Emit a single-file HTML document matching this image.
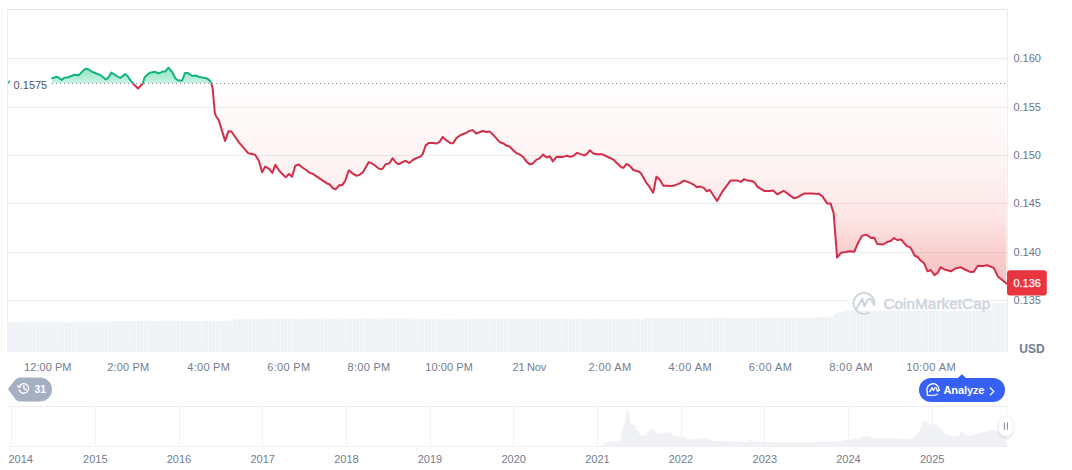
<!DOCTYPE html>
<html><head><meta charset="utf-8"><title>Chart</title>
<style>
html,body{margin:0;padding:0;background:#fff;}
body{width:1072px;height:470px;overflow:hidden;position:relative;font-family:'Liberation Sans', Arial, sans-serif;}
svg{position:absolute;left:0;top:0;display:block;}
svg text{font-family:'Liberation Sans', Arial, sans-serif;}
</style></head><body>
<svg width="1072" height="470" viewBox="0 0 1072 470">
<defs>
  <linearGradient id="gfill" x1="0" y1="66" x2="0" y2="83.5" gradientUnits="userSpaceOnUse">
    <stop offset="0" stop-color="#16c784" stop-opacity="0.50"/>
    <stop offset="1" stop-color="#16c784" stop-opacity="0.24"/>
  </linearGradient>
  <linearGradient id="rfill" x1="0" y1="83.5" x2="0" y2="290" gradientUnits="userSpaceOnUse">
    <stop offset="0" stop-color="#e93f3f" stop-opacity="0.0"/>
    <stop offset="0.08" stop-color="#e93f3f" stop-opacity="0.018"/>
    <stop offset="0.42" stop-color="#e93f3f" stop-opacity="0.065"/>
    <stop offset="0.66" stop-color="#e93f3f" stop-opacity="0.145"/>
    <stop offset="0.85" stop-color="#e93f3f" stop-opacity="0.27"/>
    <stop offset="1" stop-color="#e93f3f" stop-opacity="0.33"/>
  </linearGradient>
  <clipPath id="above"><rect x="0" y="0" width="1072" height="83.5"/></clipPath>
  <clipPath id="aboveF"><rect x="0" y="0" width="1072" height="83"/></clipPath>
  <clipPath id="below"><rect x="0" y="83.5" width="1072" height="400"/></clipPath>
  <filter id="hshadow" x="-50%" y="-50%" width="200%" height="200%">
    <feDropShadow dx="0" dy="1" stdDeviation="1.2" flood-color="#000" flood-opacity="0.18"/>
  </filter>
</defs>

<g shape-rendering="crispEdges">
<line x1="7" y1="9.5" x2="1008" y2="9.5" stroke="#e5e5e5" stroke-width="1"/>
<line x1="1.5" y1="9" x2="1.5" y2="352" stroke="#f8f8f8" stroke-width="1"/>
<line x1="7.5" y1="9" x2="7.5" y2="352" stroke="#ededed" stroke-width="1"/>
<line x1="1007.5" y1="9" x2="1007.5" y2="352" stroke="#ededed" stroke-width="1"/>
<line x1="8" y1="58.5" x2="1007" y2="58.5" stroke="#ececec" stroke-width="1"/>
<line x1="8" y1="107.5" x2="1007" y2="107.5" stroke="#ececec" stroke-width="1"/>
<line x1="8" y1="155.5" x2="1007" y2="155.5" stroke="#ececec" stroke-width="1"/>
<line x1="8" y1="203.5" x2="1007" y2="203.5" stroke="#ececec" stroke-width="1"/>
<line x1="8" y1="252.5" x2="1007" y2="252.5" stroke="#ececec" stroke-width="1"/>
<line x1="8" y1="300.5" x2="1007" y2="300.5" stroke="#ececec" stroke-width="1"/>
</g>
<g fill="#eef1f5">
<rect x="7.0" y="322.2" width="3.6" height="29.5"/>
<rect x="10.6" y="322.3" width="3.6" height="29.4"/>
<rect x="14.2" y="322.2" width="3.6" height="29.5"/>
<rect x="17.8" y="322.3" width="3.6" height="29.4"/>
<rect x="21.4" y="322.3" width="3.6" height="29.4"/>
<rect x="25.0" y="322.1" width="3.6" height="29.6"/>
<rect x="28.6" y="322.0" width="3.6" height="29.7"/>
<rect x="32.2" y="322.4" width="3.6" height="29.3"/>
<rect x="35.8" y="322.2" width="3.6" height="29.5"/>
<rect x="39.4" y="322.1" width="3.6" height="29.6"/>
<rect x="43.0" y="322.5" width="3.6" height="29.2"/>
<rect x="46.6" y="322.2" width="3.6" height="29.5"/>
<rect x="50.2" y="322.4" width="3.6" height="29.3"/>
<rect x="53.8" y="322.2" width="3.6" height="29.5"/>
<rect x="57.4" y="322.3" width="3.6" height="29.4"/>
<rect x="61.0" y="322.1" width="3.6" height="29.6"/>
<rect x="64.6" y="322.3" width="3.6" height="29.4"/>
<rect x="68.2" y="322.4" width="3.6" height="29.3"/>
<rect x="71.8" y="322.2" width="3.6" height="29.5"/>
<rect x="75.4" y="322.4" width="3.6" height="29.3"/>
<rect x="79.0" y="322.3" width="3.6" height="29.4"/>
<rect x="82.6" y="322.0" width="3.6" height="29.7"/>
<rect x="86.2" y="322.4" width="3.6" height="29.3"/>
<rect x="89.8" y="322.3" width="3.6" height="29.4"/>
<rect x="93.4" y="322.1" width="3.6" height="29.6"/>
<rect x="97.0" y="322.0" width="3.6" height="29.7"/>
<rect x="100.6" y="322.4" width="3.6" height="29.3"/>
<rect x="104.2" y="322.2" width="3.6" height="29.5"/>
<rect x="107.8" y="322.3" width="3.6" height="29.4"/>
<rect x="111.4" y="321.4" width="3.6" height="30.3"/>
<rect x="115.0" y="321.1" width="3.6" height="30.6"/>
<rect x="118.6" y="321.2" width="3.6" height="30.5"/>
<rect x="122.2" y="320.9" width="3.6" height="30.8"/>
<rect x="125.8" y="321.1" width="3.6" height="30.6"/>
<rect x="129.4" y="320.9" width="3.6" height="30.8"/>
<rect x="133.0" y="321.2" width="3.6" height="30.5"/>
<rect x="136.6" y="321.1" width="3.6" height="30.6"/>
<rect x="140.2" y="320.8" width="3.6" height="30.9"/>
<rect x="143.8" y="320.8" width="3.6" height="30.9"/>
<rect x="147.4" y="320.8" width="3.6" height="30.9"/>
<rect x="151.0" y="321.2" width="3.6" height="30.5"/>
<rect x="154.6" y="320.9" width="3.6" height="30.8"/>
<rect x="158.2" y="321.0" width="3.6" height="30.7"/>
<rect x="161.8" y="320.8" width="3.6" height="30.9"/>
<rect x="165.4" y="320.9" width="3.6" height="30.8"/>
<rect x="169.0" y="320.8" width="3.6" height="30.9"/>
<rect x="172.6" y="320.8" width="3.6" height="30.9"/>
<rect x="176.2" y="320.9" width="3.6" height="30.8"/>
<rect x="179.8" y="320.9" width="3.6" height="30.8"/>
<rect x="183.4" y="321.1" width="3.6" height="30.6"/>
<rect x="187.0" y="321.0" width="3.6" height="30.7"/>
<rect x="190.6" y="321.1" width="3.6" height="30.6"/>
<rect x="194.2" y="321.0" width="3.6" height="30.7"/>
<rect x="197.8" y="321.1" width="3.6" height="30.6"/>
<rect x="201.4" y="320.9" width="3.6" height="30.8"/>
<rect x="205.0" y="320.7" width="3.6" height="31.0"/>
<rect x="208.6" y="321.0" width="3.6" height="30.7"/>
<rect x="212.2" y="321.1" width="3.6" height="30.6"/>
<rect x="215.8" y="321.0" width="3.6" height="30.7"/>
<rect x="219.4" y="320.9" width="3.6" height="30.8"/>
<rect x="223.0" y="320.9" width="3.6" height="30.8"/>
<rect x="226.6" y="320.7" width="3.6" height="31.0"/>
<rect x="230.2" y="321.0" width="3.6" height="30.7"/>
<rect x="233.8" y="319.3" width="3.6" height="32.4"/>
<rect x="237.4" y="319.2" width="3.6" height="32.5"/>
<rect x="241.0" y="319.0" width="3.6" height="32.7"/>
<rect x="244.6" y="319.4" width="3.6" height="32.3"/>
<rect x="248.2" y="319.5" width="3.6" height="32.2"/>
<rect x="251.8" y="319.0" width="3.6" height="32.7"/>
<rect x="255.4" y="319.3" width="3.6" height="32.4"/>
<rect x="259.0" y="319.1" width="3.6" height="32.6"/>
<rect x="262.6" y="319.0" width="3.6" height="32.7"/>
<rect x="266.2" y="319.0" width="3.6" height="32.7"/>
<rect x="269.8" y="319.2" width="3.6" height="32.5"/>
<rect x="273.4" y="319.3" width="3.6" height="32.4"/>
<rect x="277.0" y="318.8" width="3.6" height="32.9"/>
<rect x="280.6" y="319.1" width="3.6" height="32.6"/>
<rect x="284.2" y="318.8" width="3.6" height="32.9"/>
<rect x="287.8" y="319.1" width="3.6" height="32.6"/>
<rect x="291.4" y="318.9" width="3.6" height="32.8"/>
<rect x="295.0" y="319.2" width="3.6" height="32.5"/>
<rect x="298.6" y="319.2" width="3.6" height="32.5"/>
<rect x="302.2" y="318.9" width="3.6" height="32.8"/>
<rect x="305.8" y="319.2" width="3.6" height="32.5"/>
<rect x="309.4" y="318.8" width="3.6" height="32.9"/>
<rect x="313.0" y="318.7" width="3.6" height="33.0"/>
<rect x="316.6" y="318.9" width="3.6" height="32.8"/>
<rect x="320.2" y="318.6" width="3.6" height="33.1"/>
<rect x="323.8" y="318.7" width="3.6" height="33.0"/>
<rect x="327.4" y="318.8" width="3.6" height="32.9"/>
<rect x="331.0" y="318.9" width="3.6" height="32.8"/>
<rect x="334.6" y="318.6" width="3.6" height="33.1"/>
<rect x="338.2" y="318.5" width="3.6" height="33.2"/>
<rect x="341.8" y="318.9" width="3.6" height="32.8"/>
<rect x="345.4" y="318.6" width="3.6" height="33.1"/>
<rect x="349.0" y="318.9" width="3.6" height="32.8"/>
<rect x="352.6" y="318.9" width="3.6" height="32.8"/>
<rect x="356.2" y="318.6" width="3.6" height="33.1"/>
<rect x="359.8" y="318.6" width="3.6" height="33.1"/>
<rect x="363.4" y="318.6" width="3.6" height="33.1"/>
<rect x="367.0" y="318.7" width="3.6" height="33.0"/>
<rect x="370.6" y="318.6" width="3.6" height="33.1"/>
<rect x="374.2" y="318.6" width="3.6" height="33.1"/>
<rect x="377.8" y="318.6" width="3.6" height="33.1"/>
<rect x="381.4" y="318.8" width="3.6" height="32.9"/>
<rect x="385.0" y="318.5" width="3.6" height="33.2"/>
<rect x="388.6" y="318.5" width="3.6" height="33.2"/>
<rect x="392.2" y="318.6" width="3.6" height="33.1"/>
<rect x="395.8" y="318.3" width="3.6" height="33.4"/>
<rect x="399.4" y="318.4" width="3.6" height="33.3"/>
<rect x="403.0" y="318.7" width="3.6" height="33.0"/>
<rect x="406.6" y="318.4" width="3.6" height="33.3"/>
<rect x="410.2" y="318.5" width="3.6" height="33.2"/>
<rect x="413.8" y="319.2" width="3.6" height="32.5"/>
<rect x="417.4" y="319.4" width="3.6" height="32.3"/>
<rect x="421.0" y="319.4" width="3.6" height="32.3"/>
<rect x="424.6" y="319.2" width="3.6" height="32.5"/>
<rect x="428.2" y="319.5" width="3.6" height="32.2"/>
<rect x="431.8" y="319.5" width="3.6" height="32.2"/>
<rect x="435.4" y="319.2" width="3.6" height="32.5"/>
<rect x="439.0" y="319.5" width="3.6" height="32.2"/>
<rect x="442.6" y="319.4" width="3.6" height="32.3"/>
<rect x="446.2" y="319.5" width="3.6" height="32.2"/>
<rect x="449.8" y="319.3" width="3.6" height="32.4"/>
<rect x="453.4" y="319.5" width="3.6" height="32.2"/>
<rect x="457.0" y="319.5" width="3.6" height="32.2"/>
<rect x="460.6" y="319.2" width="3.6" height="32.5"/>
<rect x="464.2" y="319.2" width="3.6" height="32.5"/>
<rect x="467.8" y="319.5" width="3.6" height="32.2"/>
<rect x="471.4" y="319.3" width="3.6" height="32.4"/>
<rect x="475.0" y="318.8" width="3.6" height="32.9"/>
<rect x="478.6" y="318.9" width="3.6" height="32.8"/>
<rect x="482.2" y="319.0" width="3.6" height="32.7"/>
<rect x="485.8" y="318.8" width="3.6" height="32.9"/>
<rect x="489.4" y="318.9" width="3.6" height="32.8"/>
<rect x="493.0" y="318.8" width="3.6" height="32.9"/>
<rect x="496.6" y="318.9" width="3.6" height="32.8"/>
<rect x="500.2" y="319.0" width="3.6" height="32.7"/>
<rect x="503.8" y="318.9" width="3.6" height="32.8"/>
<rect x="507.4" y="318.9" width="3.6" height="32.8"/>
<rect x="511.0" y="319.1" width="3.6" height="32.6"/>
<rect x="514.6" y="318.7" width="3.6" height="33.0"/>
<rect x="518.2" y="319.0" width="3.6" height="32.7"/>
<rect x="521.8" y="319.1" width="3.6" height="32.6"/>
<rect x="525.4" y="318.9" width="3.6" height="32.8"/>
<rect x="529.0" y="318.9" width="3.6" height="32.8"/>
<rect x="532.6" y="319.2" width="3.6" height="32.5"/>
<rect x="536.2" y="318.9" width="3.6" height="32.8"/>
<rect x="539.8" y="318.9" width="3.6" height="32.8"/>
<rect x="543.4" y="319.0" width="3.6" height="32.7"/>
<rect x="547.0" y="319.1" width="3.6" height="32.6"/>
<rect x="550.6" y="318.8" width="3.6" height="32.9"/>
<rect x="554.2" y="319.0" width="3.6" height="32.7"/>
<rect x="557.8" y="319.0" width="3.6" height="32.7"/>
<rect x="561.4" y="319.2" width="3.6" height="32.5"/>
<rect x="565.0" y="319.0" width="3.6" height="32.7"/>
<rect x="568.6" y="319.2" width="3.6" height="32.5"/>
<rect x="572.2" y="318.9" width="3.6" height="32.8"/>
<rect x="575.8" y="319.0" width="3.6" height="32.7"/>
<rect x="579.4" y="319.2" width="3.6" height="32.5"/>
<rect x="583.0" y="319.3" width="3.6" height="32.4"/>
<rect x="586.6" y="319.1" width="3.6" height="32.6"/>
<rect x="590.2" y="319.0" width="3.6" height="32.7"/>
<rect x="593.8" y="318.9" width="3.6" height="32.8"/>
<rect x="597.4" y="319.1" width="3.6" height="32.6"/>
<rect x="601.0" y="319.0" width="3.6" height="32.7"/>
<rect x="604.6" y="319.3" width="3.6" height="32.4"/>
<rect x="608.2" y="319.3" width="3.6" height="32.4"/>
<rect x="611.8" y="319.0" width="3.6" height="32.7"/>
<rect x="615.4" y="319.0" width="3.6" height="32.7"/>
<rect x="619.0" y="319.3" width="3.6" height="32.4"/>
<rect x="622.6" y="319.2" width="3.6" height="32.5"/>
<rect x="626.2" y="319.3" width="3.6" height="32.4"/>
<rect x="629.8" y="319.1" width="3.6" height="32.6"/>
<rect x="633.4" y="319.0" width="3.6" height="32.7"/>
<rect x="637.0" y="319.1" width="3.6" height="32.6"/>
<rect x="640.6" y="319.2" width="3.6" height="32.5"/>
<rect x="644.2" y="318.2" width="3.6" height="33.5"/>
<rect x="647.8" y="318.0" width="3.6" height="33.7"/>
<rect x="651.4" y="318.0" width="3.6" height="33.7"/>
<rect x="655.0" y="318.0" width="3.6" height="33.7"/>
<rect x="658.6" y="318.0" width="3.6" height="33.7"/>
<rect x="662.2" y="318.2" width="3.6" height="33.5"/>
<rect x="665.8" y="317.8" width="3.6" height="33.9"/>
<rect x="669.4" y="317.7" width="3.6" height="34.0"/>
<rect x="673.0" y="318.2" width="3.6" height="33.5"/>
<rect x="676.6" y="318.1" width="3.6" height="33.6"/>
<rect x="680.2" y="318.2" width="3.6" height="33.5"/>
<rect x="683.8" y="317.9" width="3.6" height="33.8"/>
<rect x="687.4" y="318.1" width="3.6" height="33.6"/>
<rect x="691.0" y="318.1" width="3.6" height="33.6"/>
<rect x="694.6" y="317.7" width="3.6" height="34.0"/>
<rect x="698.2" y="318.0" width="3.6" height="33.7"/>
<rect x="701.8" y="318.0" width="3.6" height="33.7"/>
<rect x="705.4" y="317.9" width="3.6" height="33.8"/>
<rect x="709.0" y="317.9" width="3.6" height="33.8"/>
<rect x="712.6" y="317.7" width="3.6" height="34.0"/>
<rect x="716.2" y="317.7" width="3.6" height="34.0"/>
<rect x="719.8" y="317.7" width="3.6" height="34.0"/>
<rect x="723.4" y="317.6" width="3.6" height="34.1"/>
<rect x="727.0" y="317.8" width="3.6" height="33.9"/>
<rect x="730.6" y="317.7" width="3.6" height="34.0"/>
<rect x="734.2" y="317.9" width="3.6" height="33.8"/>
<rect x="737.8" y="317.5" width="3.6" height="34.2"/>
<rect x="741.4" y="318.0" width="3.6" height="33.7"/>
<rect x="745.0" y="317.8" width="3.6" height="33.9"/>
<rect x="748.6" y="318.0" width="3.6" height="33.7"/>
<rect x="752.2" y="317.9" width="3.6" height="33.8"/>
<rect x="755.8" y="317.9" width="3.6" height="33.8"/>
<rect x="759.4" y="317.7" width="3.6" height="34.0"/>
<rect x="763.0" y="317.5" width="3.6" height="34.2"/>
<rect x="766.6" y="317.8" width="3.6" height="33.9"/>
<rect x="770.2" y="317.5" width="3.6" height="34.2"/>
<rect x="773.8" y="317.6" width="3.6" height="34.1"/>
<rect x="777.4" y="317.7" width="3.6" height="34.0"/>
<rect x="781.0" y="317.7" width="3.6" height="34.0"/>
<rect x="784.6" y="317.6" width="3.6" height="34.1"/>
<rect x="788.2" y="317.9" width="3.6" height="33.8"/>
<rect x="791.8" y="317.7" width="3.6" height="34.0"/>
<rect x="795.4" y="317.5" width="3.6" height="34.2"/>
<rect x="799.0" y="317.5" width="3.6" height="34.2"/>
<rect x="802.6" y="317.8" width="3.6" height="33.9"/>
<rect x="806.2" y="317.5" width="3.6" height="34.2"/>
<rect x="809.8" y="317.6" width="3.6" height="34.1"/>
<rect x="813.4" y="317.4" width="3.6" height="34.3"/>
<rect x="817.0" y="317.3" width="3.6" height="34.4"/>
<rect x="820.6" y="317.4" width="3.6" height="34.3"/>
<rect x="824.2" y="317.5" width="3.6" height="34.2"/>
<rect x="827.8" y="317.2" width="3.6" height="34.5"/>
<rect x="831.4" y="316.1" width="3.6" height="35.6"/>
<rect x="835.0" y="313.4" width="3.6" height="38.3"/>
<rect x="838.6" y="312.0" width="3.6" height="39.7"/>
<rect x="842.2" y="311.3" width="3.6" height="40.4"/>
<rect x="845.8" y="310.6" width="3.6" height="41.1"/>
<rect x="849.4" y="309.9" width="3.6" height="41.8"/>
<rect x="853.0" y="307.9" width="3.6" height="43.8"/>
<rect x="856.6" y="305.7" width="3.6" height="46.0"/>
<rect x="860.2" y="305.3" width="3.6" height="46.4"/>
<rect x="863.8" y="304.8" width="3.6" height="46.9"/>
<rect x="867.4" y="304.4" width="3.6" height="47.3"/>
<rect x="871.0" y="304.0" width="3.6" height="47.7"/>
<rect x="874.6" y="304.0" width="3.6" height="47.7"/>
<rect x="878.2" y="304.1" width="3.6" height="47.6"/>
<rect x="881.8" y="303.7" width="3.6" height="48.0"/>
<rect x="885.4" y="303.7" width="3.6" height="48.0"/>
<rect x="889.0" y="303.7" width="3.6" height="48.0"/>
<rect x="892.6" y="303.7" width="3.6" height="48.0"/>
<rect x="896.2" y="303.6" width="3.6" height="48.1"/>
<rect x="899.8" y="304.1" width="3.6" height="47.6"/>
<rect x="903.4" y="304.0" width="3.6" height="47.7"/>
<rect x="907.0" y="303.6" width="3.6" height="48.1"/>
<rect x="910.6" y="303.8" width="3.6" height="47.9"/>
<rect x="914.2" y="303.6" width="3.6" height="48.1"/>
<rect x="917.8" y="303.6" width="3.6" height="48.1"/>
<rect x="921.4" y="303.6" width="3.6" height="48.1"/>
<rect x="925.0" y="303.8" width="3.6" height="47.9"/>
<rect x="928.6" y="303.7" width="3.6" height="48.0"/>
<rect x="932.2" y="303.6" width="3.6" height="48.1"/>
<rect x="935.8" y="303.5" width="3.6" height="48.2"/>
<rect x="939.4" y="303.5" width="3.6" height="48.2"/>
<rect x="943.0" y="303.4" width="3.6" height="48.3"/>
<rect x="946.6" y="303.6" width="3.6" height="48.1"/>
<rect x="950.2" y="303.6" width="3.6" height="48.1"/>
<rect x="953.8" y="303.5" width="3.6" height="48.2"/>
<rect x="957.4" y="303.3" width="3.6" height="48.4"/>
<rect x="961.0" y="303.3" width="3.6" height="48.4"/>
<rect x="964.6" y="303.4" width="3.6" height="48.3"/>
<rect x="968.2" y="303.5" width="3.6" height="48.2"/>
<rect x="971.8" y="303.5" width="3.6" height="48.2"/>
<rect x="975.4" y="303.3" width="3.6" height="48.4"/>
<rect x="979.0" y="303.5" width="3.6" height="48.2"/>
<rect x="982.6" y="303.4" width="3.6" height="48.3"/>
<rect x="986.2" y="303.3" width="3.6" height="48.4"/>
<rect x="989.8" y="303.2" width="3.6" height="48.5"/>
<rect x="993.4" y="303.3" width="3.6" height="48.4"/>
<rect x="997.0" y="303.4" width="3.6" height="48.3"/>
<rect x="1000.6" y="303.2" width="3.6" height="48.5"/>
<rect x="1004.2" y="303.3" width="2.8" height="48.4"/>
</g>
<clipPath id="volclip"><path d="M7 352 L7.0 322.3 L10.0 322.3 L13.0 322.3 L16.0 322.3 L19.0 322.3 L22.0 322.3 L25.0 322.3 L28.0 322.3 L31.0 322.3 L34.0 322.3 L37.0 322.3 L40.0 322.3 L43.0 322.3 L46.0 322.3 L49.0 322.3 L52.0 322.3 L55.0 322.3 L58.0 322.2 L61.0 322.2 L64.0 322.2 L67.0 322.2 L70.0 322.2 L73.0 322.2 L76.0 322.2 L79.0 322.2 L82.0 322.2 L85.0 322.2 L88.0 322.2 L91.0 322.2 L94.0 322.2 L97.0 322.2 L100.0 322.2 L103.0 322.2 L106.0 322.2 L109.0 321.9 L112.0 321.0 L115.0 321.0 L118.0 321.0 L121.0 321.0 L124.0 321.0 L127.0 321.0 L130.0 321.0 L133.0 321.0 L136.0 321.0 L139.0 321.0 L142.0 320.9 L145.0 320.9 L148.0 320.9 L151.0 320.9 L154.0 320.9 L157.0 320.9 L160.0 320.9 L163.0 320.9 L166.0 320.9 L169.0 320.9 L172.0 320.9 L175.0 320.9 L178.0 320.9 L181.0 320.9 L184.0 320.9 L187.0 320.9 L190.0 320.9 L193.0 320.9 L196.0 320.9 L199.0 320.9 L202.0 320.8 L205.0 320.8 L208.0 320.8 L211.0 320.8 L214.0 320.8 L217.0 320.8 L220.0 320.8 L223.0 320.8 L226.0 320.8 L229.0 320.8 L232.0 320.1 L235.0 319.3 L238.0 319.3 L241.0 319.3 L244.0 319.2 L247.0 319.2 L250.0 319.2 L253.0 319.2 L256.0 319.2 L259.0 319.2 L262.0 319.1 L265.0 319.1 L268.0 319.1 L271.0 319.1 L274.0 319.1 L277.0 319.1 L280.0 319.1 L283.0 319.0 L286.0 319.0 L289.0 319.0 L292.0 319.0 L295.0 319.0 L298.0 319.0 L301.0 318.9 L304.0 318.9 L307.0 318.9 L310.0 318.9 L313.0 318.9 L316.0 318.9 L319.0 318.9 L322.0 318.8 L325.0 318.8 L328.0 318.8 L331.0 318.8 L334.0 318.8 L337.0 318.8 L340.0 318.8 L343.0 318.7 L346.0 318.7 L349.0 318.7 L352.0 318.7 L355.0 318.7 L358.0 318.7 L361.0 318.6 L364.0 318.6 L367.0 318.6 L370.0 318.6 L373.0 318.6 L376.0 318.6 L379.0 318.6 L382.0 318.5 L385.0 318.5 L388.0 318.5 L391.0 318.5 L394.0 318.5 L397.0 318.5 L400.0 318.4 L403.0 318.4 L406.0 318.4 L409.0 318.4 L412.0 319.4 L415.0 319.4 L418.0 319.4 L421.0 319.4 L424.0 319.4 L427.0 319.4 L430.0 319.4 L433.0 319.4 L436.0 319.4 L439.0 319.4 L442.0 319.4 L445.0 319.4 L448.0 319.4 L451.0 319.4 L454.0 319.4 L457.0 319.4 L460.0 319.4 L463.0 319.4 L466.0 319.4 L469.0 319.4 L472.0 318.9 L475.0 318.9 L478.0 318.9 L481.0 318.9 L484.0 318.9 L487.0 318.9 L490.0 318.9 L493.0 318.9 L496.0 318.9 L499.0 318.9 L502.0 319.0 L505.0 319.0 L508.0 319.0 L511.0 319.0 L514.0 319.0 L517.0 319.0 L520.0 319.0 L523.0 319.0 L526.0 319.0 L529.0 319.0 L532.0 319.0 L535.0 319.0 L538.0 319.0 L541.0 319.0 L544.0 319.0 L547.0 319.0 L550.0 319.0 L553.0 319.0 L556.0 319.0 L559.0 319.1 L562.0 319.1 L565.0 319.1 L568.0 319.1 L571.0 319.1 L574.0 319.1 L577.0 319.1 L580.0 319.1 L583.0 319.1 L586.0 319.1 L589.0 319.1 L592.0 319.1 L595.0 319.1 L598.0 319.1 L601.0 319.1 L604.0 319.1 L607.0 319.1 L610.0 319.1 L613.0 319.2 L616.0 319.2 L619.0 319.2 L622.0 319.2 L625.0 319.2 L628.0 319.2 L631.0 319.2 L634.0 319.2 L637.0 319.2 L640.0 319.2 L643.0 318.5 L646.0 318.1 L649.0 318.1 L652.0 318.1 L655.0 318.1 L658.0 318.0 L661.0 318.0 L664.0 318.0 L667.0 318.0 L670.0 318.0 L673.0 318.0 L676.0 318.0 L679.0 317.9 L682.0 317.9 L685.0 317.9 L688.0 317.9 L691.0 317.9 L694.0 317.9 L697.0 317.9 L700.0 317.9 L703.0 317.9 L706.0 317.9 L709.0 317.8 L712.0 317.8 L715.0 317.8 L718.0 317.8 L721.0 317.8 L724.0 317.8 L727.0 317.8 L730.0 317.8 L733.0 317.8 L736.0 317.8 L739.0 317.8 L742.0 317.8 L745.0 317.8 L748.0 317.7 L751.0 317.7 L754.0 317.7 L757.0 317.7 L760.0 317.7 L763.0 317.7 L766.0 317.7 L769.0 317.7 L772.0 317.7 L775.0 317.7 L778.0 317.7 L781.0 317.7 L784.0 317.6 L787.0 317.6 L790.0 317.6 L793.0 317.6 L796.0 317.6 L799.0 317.6 L802.0 317.6 L805.0 317.6 L808.0 317.5 L811.0 317.5 L814.0 317.5 L817.0 317.4 L820.0 317.4 L823.0 317.4 L826.0 317.3 L829.0 317.3 L832.0 315.4 L835.0 313.1 L838.0 312.1 L841.0 311.3 L844.0 311.0 L847.0 310.7 L850.0 309.5 L853.0 307.7 L856.0 306.0 L859.0 305.6 L862.0 305.1 L865.0 304.7 L868.0 304.3 L871.0 304.0 L874.0 304.0 L877.0 304.0 L880.0 303.9 L883.0 303.9 L886.0 303.9 L889.0 303.9 L892.0 303.9 L895.0 303.9 L898.0 303.8 L901.0 303.8 L904.0 303.8 L907.0 303.8 L910.0 303.8 L913.0 303.7 L916.0 303.7 L919.0 303.7 L922.0 303.7 L925.0 303.7 L928.0 303.7 L931.0 303.6 L934.0 303.6 L937.0 303.6 L940.0 303.6 L943.0 303.6 L946.0 303.6 L949.0 303.5 L952.0 303.5 L955.0 303.5 L958.0 303.5 L961.0 303.5 L964.0 303.5 L967.0 303.4 L970.0 303.4 L973.0 303.4 L976.0 303.4 L979.0 303.4 L982.0 303.3 L985.0 303.3 L988.0 303.3 L991.0 303.3 L994.0 303.3 L997.0 303.3 L1000.0 303.2 L1003.0 303.2 L1006.0 303.2 L1007 352 Z"/></clipPath>
<g fill="#f6f8fa" clip-path="url(#volclip)">
<rect x="10.1" y="300" width="0.6" height="52"/>
<rect x="13.7" y="300" width="0.6" height="52"/>
<rect x="17.3" y="300" width="0.6" height="52"/>
<rect x="20.9" y="300" width="0.6" height="52"/>
<rect x="24.5" y="300" width="0.6" height="52"/>
<rect x="28.1" y="300" width="0.6" height="52"/>
<rect x="31.7" y="300" width="0.6" height="52"/>
<rect x="35.3" y="300" width="0.6" height="52"/>
<rect x="38.9" y="300" width="0.6" height="52"/>
<rect x="42.5" y="300" width="0.6" height="52"/>
<rect x="46.1" y="300" width="0.6" height="52"/>
<rect x="49.7" y="300" width="0.6" height="52"/>
<rect x="53.3" y="300" width="0.6" height="52"/>
<rect x="56.9" y="300" width="0.6" height="52"/>
<rect x="60.5" y="300" width="0.6" height="52"/>
<rect x="64.1" y="300" width="0.6" height="52"/>
<rect x="67.7" y="300" width="0.6" height="52"/>
<rect x="71.3" y="300" width="0.6" height="52"/>
<rect x="74.9" y="300" width="0.6" height="52"/>
<rect x="78.5" y="300" width="0.6" height="52"/>
<rect x="82.1" y="300" width="0.6" height="52"/>
<rect x="85.7" y="300" width="0.6" height="52"/>
<rect x="89.3" y="300" width="0.6" height="52"/>
<rect x="92.9" y="300" width="0.6" height="52"/>
<rect x="96.5" y="300" width="0.6" height="52"/>
<rect x="100.1" y="300" width="0.6" height="52"/>
<rect x="103.7" y="300" width="0.6" height="52"/>
<rect x="107.3" y="300" width="0.6" height="52"/>
<rect x="110.9" y="300" width="0.6" height="52"/>
<rect x="114.5" y="300" width="0.6" height="52"/>
<rect x="118.1" y="300" width="0.6" height="52"/>
<rect x="121.7" y="300" width="0.6" height="52"/>
<rect x="125.3" y="300" width="0.6" height="52"/>
<rect x="128.9" y="300" width="0.6" height="52"/>
<rect x="132.5" y="300" width="0.6" height="52"/>
<rect x="136.1" y="300" width="0.6" height="52"/>
<rect x="139.7" y="300" width="0.6" height="52"/>
<rect x="143.3" y="300" width="0.6" height="52"/>
<rect x="146.9" y="300" width="0.6" height="52"/>
<rect x="150.5" y="300" width="0.6" height="52"/>
<rect x="154.1" y="300" width="0.6" height="52"/>
<rect x="157.7" y="300" width="0.6" height="52"/>
<rect x="161.3" y="300" width="0.6" height="52"/>
<rect x="164.9" y="300" width="0.6" height="52"/>
<rect x="168.5" y="300" width="0.6" height="52"/>
<rect x="172.1" y="300" width="0.6" height="52"/>
<rect x="175.7" y="300" width="0.6" height="52"/>
<rect x="179.3" y="300" width="0.6" height="52"/>
<rect x="182.9" y="300" width="0.6" height="52"/>
<rect x="186.5" y="300" width="0.6" height="52"/>
<rect x="190.1" y="300" width="0.6" height="52"/>
<rect x="193.7" y="300" width="0.6" height="52"/>
<rect x="197.3" y="300" width="0.6" height="52"/>
<rect x="200.9" y="300" width="0.6" height="52"/>
<rect x="204.5" y="300" width="0.6" height="52"/>
<rect x="208.1" y="300" width="0.6" height="52"/>
<rect x="211.7" y="300" width="0.6" height="52"/>
<rect x="215.3" y="300" width="0.6" height="52"/>
<rect x="218.9" y="300" width="0.6" height="52"/>
<rect x="222.5" y="300" width="0.6" height="52"/>
<rect x="226.1" y="300" width="0.6" height="52"/>
<rect x="229.7" y="300" width="0.6" height="52"/>
<rect x="233.3" y="300" width="0.6" height="52"/>
<rect x="236.9" y="300" width="0.6" height="52"/>
<rect x="240.5" y="300" width="0.6" height="52"/>
<rect x="244.1" y="300" width="0.6" height="52"/>
<rect x="247.7" y="300" width="0.6" height="52"/>
<rect x="251.3" y="300" width="0.6" height="52"/>
<rect x="254.9" y="300" width="0.6" height="52"/>
<rect x="258.5" y="300" width="0.6" height="52"/>
<rect x="262.1" y="300" width="0.6" height="52"/>
<rect x="265.7" y="300" width="0.6" height="52"/>
<rect x="269.3" y="300" width="0.6" height="52"/>
<rect x="272.9" y="300" width="0.6" height="52"/>
<rect x="276.5" y="300" width="0.6" height="52"/>
<rect x="280.1" y="300" width="0.6" height="52"/>
<rect x="283.7" y="300" width="0.6" height="52"/>
<rect x="287.3" y="300" width="0.6" height="52"/>
<rect x="290.9" y="300" width="0.6" height="52"/>
<rect x="294.5" y="300" width="0.6" height="52"/>
<rect x="298.1" y="300" width="0.6" height="52"/>
<rect x="301.7" y="300" width="0.6" height="52"/>
<rect x="305.3" y="300" width="0.6" height="52"/>
<rect x="308.9" y="300" width="0.6" height="52"/>
<rect x="312.5" y="300" width="0.6" height="52"/>
<rect x="316.1" y="300" width="0.6" height="52"/>
<rect x="319.7" y="300" width="0.6" height="52"/>
<rect x="323.3" y="300" width="0.6" height="52"/>
<rect x="326.9" y="300" width="0.6" height="52"/>
<rect x="330.5" y="300" width="0.6" height="52"/>
<rect x="334.1" y="300" width="0.6" height="52"/>
<rect x="337.7" y="300" width="0.6" height="52"/>
<rect x="341.3" y="300" width="0.6" height="52"/>
<rect x="344.9" y="300" width="0.6" height="52"/>
<rect x="348.5" y="300" width="0.6" height="52"/>
<rect x="352.1" y="300" width="0.6" height="52"/>
<rect x="355.7" y="300" width="0.6" height="52"/>
<rect x="359.3" y="300" width="0.6" height="52"/>
<rect x="362.9" y="300" width="0.6" height="52"/>
<rect x="366.5" y="300" width="0.6" height="52"/>
<rect x="370.1" y="300" width="0.6" height="52"/>
<rect x="373.7" y="300" width="0.6" height="52"/>
<rect x="377.3" y="300" width="0.6" height="52"/>
<rect x="380.9" y="300" width="0.6" height="52"/>
<rect x="384.5" y="300" width="0.6" height="52"/>
<rect x="388.1" y="300" width="0.6" height="52"/>
<rect x="391.7" y="300" width="0.6" height="52"/>
<rect x="395.3" y="300" width="0.6" height="52"/>
<rect x="398.9" y="300" width="0.6" height="52"/>
<rect x="402.5" y="300" width="0.6" height="52"/>
<rect x="406.1" y="300" width="0.6" height="52"/>
<rect x="409.7" y="300" width="0.6" height="52"/>
<rect x="413.3" y="300" width="0.6" height="52"/>
<rect x="416.9" y="300" width="0.6" height="52"/>
<rect x="420.5" y="300" width="0.6" height="52"/>
<rect x="424.1" y="300" width="0.6" height="52"/>
<rect x="427.7" y="300" width="0.6" height="52"/>
<rect x="431.3" y="300" width="0.6" height="52"/>
<rect x="434.9" y="300" width="0.6" height="52"/>
<rect x="438.5" y="300" width="0.6" height="52"/>
<rect x="442.1" y="300" width="0.6" height="52"/>
<rect x="445.7" y="300" width="0.6" height="52"/>
<rect x="449.3" y="300" width="0.6" height="52"/>
<rect x="452.9" y="300" width="0.6" height="52"/>
<rect x="456.5" y="300" width="0.6" height="52"/>
<rect x="460.1" y="300" width="0.6" height="52"/>
<rect x="463.7" y="300" width="0.6" height="52"/>
<rect x="467.3" y="300" width="0.6" height="52"/>
<rect x="470.9" y="300" width="0.6" height="52"/>
<rect x="474.5" y="300" width="0.6" height="52"/>
<rect x="478.1" y="300" width="0.6" height="52"/>
<rect x="481.7" y="300" width="0.6" height="52"/>
<rect x="485.3" y="300" width="0.6" height="52"/>
<rect x="488.9" y="300" width="0.6" height="52"/>
<rect x="492.5" y="300" width="0.6" height="52"/>
<rect x="496.1" y="300" width="0.6" height="52"/>
<rect x="499.7" y="300" width="0.6" height="52"/>
<rect x="503.3" y="300" width="0.6" height="52"/>
<rect x="506.9" y="300" width="0.6" height="52"/>
<rect x="510.5" y="300" width="0.6" height="52"/>
<rect x="514.1" y="300" width="0.6" height="52"/>
<rect x="517.7" y="300" width="0.6" height="52"/>
<rect x="521.3" y="300" width="0.6" height="52"/>
<rect x="524.9" y="300" width="0.6" height="52"/>
<rect x="528.5" y="300" width="0.6" height="52"/>
<rect x="532.1" y="300" width="0.6" height="52"/>
<rect x="535.7" y="300" width="0.6" height="52"/>
<rect x="539.3" y="300" width="0.6" height="52"/>
<rect x="542.9" y="300" width="0.6" height="52"/>
<rect x="546.5" y="300" width="0.6" height="52"/>
<rect x="550.1" y="300" width="0.6" height="52"/>
<rect x="553.7" y="300" width="0.6" height="52"/>
<rect x="557.3" y="300" width="0.6" height="52"/>
<rect x="560.9" y="300" width="0.6" height="52"/>
<rect x="564.5" y="300" width="0.6" height="52"/>
<rect x="568.1" y="300" width="0.6" height="52"/>
<rect x="571.7" y="300" width="0.6" height="52"/>
<rect x="575.3" y="300" width="0.6" height="52"/>
<rect x="578.9" y="300" width="0.6" height="52"/>
<rect x="582.5" y="300" width="0.6" height="52"/>
<rect x="586.1" y="300" width="0.6" height="52"/>
<rect x="589.7" y="300" width="0.6" height="52"/>
<rect x="593.3" y="300" width="0.6" height="52"/>
<rect x="596.9" y="300" width="0.6" height="52"/>
<rect x="600.5" y="300" width="0.6" height="52"/>
<rect x="604.1" y="300" width="0.6" height="52"/>
<rect x="607.7" y="300" width="0.6" height="52"/>
<rect x="611.3" y="300" width="0.6" height="52"/>
<rect x="614.9" y="300" width="0.6" height="52"/>
<rect x="618.5" y="300" width="0.6" height="52"/>
<rect x="622.1" y="300" width="0.6" height="52"/>
<rect x="625.7" y="300" width="0.6" height="52"/>
<rect x="629.3" y="300" width="0.6" height="52"/>
<rect x="632.9" y="300" width="0.6" height="52"/>
<rect x="636.5" y="300" width="0.6" height="52"/>
<rect x="640.1" y="300" width="0.6" height="52"/>
<rect x="643.7" y="300" width="0.6" height="52"/>
<rect x="647.3" y="300" width="0.6" height="52"/>
<rect x="650.9" y="300" width="0.6" height="52"/>
<rect x="654.5" y="300" width="0.6" height="52"/>
<rect x="658.1" y="300" width="0.6" height="52"/>
<rect x="661.7" y="300" width="0.6" height="52"/>
<rect x="665.3" y="300" width="0.6" height="52"/>
<rect x="668.9" y="300" width="0.6" height="52"/>
<rect x="672.5" y="300" width="0.6" height="52"/>
<rect x="676.1" y="300" width="0.6" height="52"/>
<rect x="679.7" y="300" width="0.6" height="52"/>
<rect x="683.3" y="300" width="0.6" height="52"/>
<rect x="686.9" y="300" width="0.6" height="52"/>
<rect x="690.5" y="300" width="0.6" height="52"/>
<rect x="694.1" y="300" width="0.6" height="52"/>
<rect x="697.7" y="300" width="0.6" height="52"/>
<rect x="701.3" y="300" width="0.6" height="52"/>
<rect x="704.9" y="300" width="0.6" height="52"/>
<rect x="708.5" y="300" width="0.6" height="52"/>
<rect x="712.1" y="300" width="0.6" height="52"/>
<rect x="715.7" y="300" width="0.6" height="52"/>
<rect x="719.3" y="300" width="0.6" height="52"/>
<rect x="722.9" y="300" width="0.6" height="52"/>
<rect x="726.5" y="300" width="0.6" height="52"/>
<rect x="730.1" y="300" width="0.6" height="52"/>
<rect x="733.7" y="300" width="0.6" height="52"/>
<rect x="737.3" y="300" width="0.6" height="52"/>
<rect x="740.9" y="300" width="0.6" height="52"/>
<rect x="744.5" y="300" width="0.6" height="52"/>
<rect x="748.1" y="300" width="0.6" height="52"/>
<rect x="751.7" y="300" width="0.6" height="52"/>
<rect x="755.3" y="300" width="0.6" height="52"/>
<rect x="758.9" y="300" width="0.6" height="52"/>
<rect x="762.5" y="300" width="0.6" height="52"/>
<rect x="766.1" y="300" width="0.6" height="52"/>
<rect x="769.7" y="300" width="0.6" height="52"/>
<rect x="773.3" y="300" width="0.6" height="52"/>
<rect x="776.9" y="300" width="0.6" height="52"/>
<rect x="780.5" y="300" width="0.6" height="52"/>
<rect x="784.1" y="300" width="0.6" height="52"/>
<rect x="787.7" y="300" width="0.6" height="52"/>
<rect x="791.3" y="300" width="0.6" height="52"/>
<rect x="794.9" y="300" width="0.6" height="52"/>
<rect x="798.5" y="300" width="0.6" height="52"/>
<rect x="802.1" y="300" width="0.6" height="52"/>
<rect x="805.7" y="300" width="0.6" height="52"/>
<rect x="809.3" y="300" width="0.6" height="52"/>
<rect x="812.9" y="300" width="0.6" height="52"/>
<rect x="816.5" y="300" width="0.6" height="52"/>
<rect x="820.1" y="300" width="0.6" height="52"/>
<rect x="823.7" y="300" width="0.6" height="52"/>
<rect x="827.3" y="300" width="0.6" height="52"/>
<rect x="830.9" y="300" width="0.6" height="52"/>
<rect x="834.5" y="300" width="0.6" height="52"/>
<rect x="838.1" y="300" width="0.6" height="52"/>
<rect x="841.7" y="300" width="0.6" height="52"/>
<rect x="845.3" y="300" width="0.6" height="52"/>
<rect x="848.9" y="300" width="0.6" height="52"/>
<rect x="852.5" y="300" width="0.6" height="52"/>
<rect x="856.1" y="300" width="0.6" height="52"/>
<rect x="859.7" y="300" width="0.6" height="52"/>
<rect x="863.3" y="300" width="0.6" height="52"/>
<rect x="866.9" y="300" width="0.6" height="52"/>
<rect x="870.5" y="300" width="0.6" height="52"/>
<rect x="874.1" y="300" width="0.6" height="52"/>
<rect x="877.7" y="300" width="0.6" height="52"/>
<rect x="881.3" y="300" width="0.6" height="52"/>
<rect x="884.9" y="300" width="0.6" height="52"/>
<rect x="888.5" y="300" width="0.6" height="52"/>
<rect x="892.1" y="300" width="0.6" height="52"/>
<rect x="895.7" y="300" width="0.6" height="52"/>
<rect x="899.3" y="300" width="0.6" height="52"/>
<rect x="902.9" y="300" width="0.6" height="52"/>
<rect x="906.5" y="300" width="0.6" height="52"/>
<rect x="910.1" y="300" width="0.6" height="52"/>
<rect x="913.7" y="300" width="0.6" height="52"/>
<rect x="917.3" y="300" width="0.6" height="52"/>
<rect x="920.9" y="300" width="0.6" height="52"/>
<rect x="924.5" y="300" width="0.6" height="52"/>
<rect x="928.1" y="300" width="0.6" height="52"/>
<rect x="931.7" y="300" width="0.6" height="52"/>
<rect x="935.3" y="300" width="0.6" height="52"/>
<rect x="938.9" y="300" width="0.6" height="52"/>
<rect x="942.5" y="300" width="0.6" height="52"/>
<rect x="946.1" y="300" width="0.6" height="52"/>
<rect x="949.7" y="300" width="0.6" height="52"/>
<rect x="953.3" y="300" width="0.6" height="52"/>
<rect x="956.9" y="300" width="0.6" height="52"/>
<rect x="960.5" y="300" width="0.6" height="52"/>
<rect x="964.1" y="300" width="0.6" height="52"/>
<rect x="967.7" y="300" width="0.6" height="52"/>
<rect x="971.3" y="300" width="0.6" height="52"/>
<rect x="974.9" y="300" width="0.6" height="52"/>
<rect x="978.5" y="300" width="0.6" height="52"/>
<rect x="982.1" y="300" width="0.6" height="52"/>
<rect x="985.7" y="300" width="0.6" height="52"/>
<rect x="989.3" y="300" width="0.6" height="52"/>
<rect x="992.9" y="300" width="0.6" height="52"/>
<rect x="996.5" y="300" width="0.6" height="52"/>
<rect x="1000.1" y="300" width="0.6" height="52"/>
<rect x="1003.7" y="300" width="0.6" height="52"/>
</g>
<path d="M52.2 78.3 L56.8 76.8 L58 77.2 L61.7 80 L64.3 77.8 L68.1 77.2 L74.4 74.7 L78.6 75.3 L85.3 68.8 L88.3 69.2 L92 71.8 L100.5 75.1 L105.5 79.3 L108 78.3 L111.4 72.6 L120.2 78 L125.2 74.1 L127.5 76 L130 79.7 L133 83.5 L138 88.5 L142.6 83.9 L144.7 77.2 L149.3 73 L154.4 71.8 L159 73.3 L162 71.8 L165.3 71.3 L168.5 67.6 L172 71.8 L175.4 78.5 L178.7 80.6 L182.1 80.6 L185 73 L188 73 L192.2 76 L195.5 75.5 L198.9 76.8 L207.3 78.6 L209.8 80.6 L211.5 83.9 L212.7 88.9 L214.9 113.6 L216.1 116.2 L218.6 119.9 L225.1 140.9 L228.5 131.2 L231.4 131.5 L239.1 142.6 L248.4 153.3 L251 153.7 L255.1 154.7 L258.9 160.8 L262.1 172.3 L265.3 166.6 L269.2 168.8 L272.3 173 L275.3 164.9 L279.4 171 L285.8 177.4 L289 173.9 L292.1 176.8 L295.3 165.7 L298.8 164.4 L302.4 167.5 L306.2 170 L309.4 172.6 L313.2 174.2 L326.6 183.2 L329.8 184.5 L333 188.3 L335.6 189.2 L339.5 185.1 L342 185.3 L345.2 180.8 L348.8 170.2 L352.2 173.2 L356.1 175.7 L359.3 175.1 L363.1 171.9 L368.8 162.1 L373.3 164.2 L379.1 168.7 L382.3 169 L385.8 164.2 L389.3 163.4 L392.5 158.2 L396.3 163 L398.9 164.2 L404 161.3 L405.9 161.1 L409.1 163 L412.9 160 L416.7 157.9 L419.9 157 L422.6 154.4 L425.7 145.4 L428.9 142.9 L432.8 142.9 L436.6 143.5 L439.8 141.6 L442.7 136.9 L446.8 140.7 L450.7 143.2 L453.2 143.2 L456.4 138.1 L460.2 135.2 L465.3 133.3 L469.2 131 L472.4 130.1 L476.2 133.5 L482.6 131 L486.4 132 L489.6 131.4 L494.1 135.8 L499.8 142.2 L503 143.2 L506.8 145.8 L509.5 146.5 L512.7 149.7 L516.5 153.2 L520.3 154.8 L523.5 157.3 L526.7 161.8 L529.9 164.4 L532.5 163.7 L536.3 159.9 L539.5 158.4 L543.1 154.5 L546.5 157.6 L549.7 156.3 L552.9 161.4 L556.7 156.7 L562.5 157.1 L566.9 155.8 L570.1 156.7 L572.7 156.3 L577.2 152.9 L584.2 155.4 L586.7 154.1 L589.9 150.3 L593.2 153.4 L597 154.2 L602.1 154.2 L607.9 157 L613 159.3 L616.8 163.1 L621.3 167.2 L623.5 167.9 L626.4 164 L629.6 165.7 L633.4 170 L639.2 171.7 L641.1 173.4 L646.2 182.5 L650 187.7 L653.2 192.8 L656.4 176.8 L659.6 179.4 L663.4 185.7 L666.6 185.7 L671.7 186.1 L675 185.3 L680.1 183.1 L683.7 180.6 L687.8 181.9 L694.2 184.9 L696.7 187.2 L700.5 186.6 L703.7 187.9 L706.9 191.3 L709.7 189.8 L717.1 201 L722.3 191.7 L726.1 186.6 L730.6 180.6 L735 180.6 L737.6 180.6 L740.8 181.9 L744 179.3 L747.8 180.6 L752.3 181.1 L754.8 182.7 L757.4 186.6 L760 188.3 L764.5 191.1 L769.6 191.1 L773.4 190.6 L777.2 194.4 L783.6 190.8 L788.7 194.4 L793.8 198.2 L797.7 197.2 L804.1 193.6 L811.1 193.6 L819.4 194 L822.6 196.6 L827.1 203.4 L830.5 203.4 L833.6 212.9 L837.1 257.6 L841 252.8 L845.4 252.1 L849.9 251.2 L854.4 251.7 L858.2 242.5 L862 235.9 L865.9 234.6 L868.4 235.9 L871 238.1 L874.2 237.7 L877.4 244.1 L883.1 244.5 L887.6 241.9 L890.8 241 L894 238.1 L897.2 240 L901 239.4 L906.7 246.1 L910.3 247.4 L911.9 250 L914.5 255.5 L917.7 257 L920.9 260.8 L924 263.1 L927.6 271.3 L930.7 270 L934.5 275.1 L937.5 273 L940.7 267.2 L944.5 269.5 L950.9 271.3 L955.3 268.5 L960.4 267.2 L964.9 269.5 L970.7 272.1 L973.9 271.7 L977.7 265.7 L982.8 265.9 L987.3 265.3 L993.7 267.9 L998.1 276.8 L1002 279.7 L1006.4 283.6 L1006.4 83 L52.2 83 Z" fill="url(#gfill)" clip-path="url(#aboveF)"/>
<path d="M52.2 78.3 L56.8 76.8 L58 77.2 L61.7 80 L64.3 77.8 L68.1 77.2 L74.4 74.7 L78.6 75.3 L85.3 68.8 L88.3 69.2 L92 71.8 L100.5 75.1 L105.5 79.3 L108 78.3 L111.4 72.6 L120.2 78 L125.2 74.1 L127.5 76 L130 79.7 L133 83.5 L138 88.5 L142.6 83.9 L144.7 77.2 L149.3 73 L154.4 71.8 L159 73.3 L162 71.8 L165.3 71.3 L168.5 67.6 L172 71.8 L175.4 78.5 L178.7 80.6 L182.1 80.6 L185 73 L188 73 L192.2 76 L195.5 75.5 L198.9 76.8 L207.3 78.6 L209.8 80.6 L211.5 83.9 L212.7 88.9 L214.9 113.6 L216.1 116.2 L218.6 119.9 L225.1 140.9 L228.5 131.2 L231.4 131.5 L239.1 142.6 L248.4 153.3 L251 153.7 L255.1 154.7 L258.9 160.8 L262.1 172.3 L265.3 166.6 L269.2 168.8 L272.3 173 L275.3 164.9 L279.4 171 L285.8 177.4 L289 173.9 L292.1 176.8 L295.3 165.7 L298.8 164.4 L302.4 167.5 L306.2 170 L309.4 172.6 L313.2 174.2 L326.6 183.2 L329.8 184.5 L333 188.3 L335.6 189.2 L339.5 185.1 L342 185.3 L345.2 180.8 L348.8 170.2 L352.2 173.2 L356.1 175.7 L359.3 175.1 L363.1 171.9 L368.8 162.1 L373.3 164.2 L379.1 168.7 L382.3 169 L385.8 164.2 L389.3 163.4 L392.5 158.2 L396.3 163 L398.9 164.2 L404 161.3 L405.9 161.1 L409.1 163 L412.9 160 L416.7 157.9 L419.9 157 L422.6 154.4 L425.7 145.4 L428.9 142.9 L432.8 142.9 L436.6 143.5 L439.8 141.6 L442.7 136.9 L446.8 140.7 L450.7 143.2 L453.2 143.2 L456.4 138.1 L460.2 135.2 L465.3 133.3 L469.2 131 L472.4 130.1 L476.2 133.5 L482.6 131 L486.4 132 L489.6 131.4 L494.1 135.8 L499.8 142.2 L503 143.2 L506.8 145.8 L509.5 146.5 L512.7 149.7 L516.5 153.2 L520.3 154.8 L523.5 157.3 L526.7 161.8 L529.9 164.4 L532.5 163.7 L536.3 159.9 L539.5 158.4 L543.1 154.5 L546.5 157.6 L549.7 156.3 L552.9 161.4 L556.7 156.7 L562.5 157.1 L566.9 155.8 L570.1 156.7 L572.7 156.3 L577.2 152.9 L584.2 155.4 L586.7 154.1 L589.9 150.3 L593.2 153.4 L597 154.2 L602.1 154.2 L607.9 157 L613 159.3 L616.8 163.1 L621.3 167.2 L623.5 167.9 L626.4 164 L629.6 165.7 L633.4 170 L639.2 171.7 L641.1 173.4 L646.2 182.5 L650 187.7 L653.2 192.8 L656.4 176.8 L659.6 179.4 L663.4 185.7 L666.6 185.7 L671.7 186.1 L675 185.3 L680.1 183.1 L683.7 180.6 L687.8 181.9 L694.2 184.9 L696.7 187.2 L700.5 186.6 L703.7 187.9 L706.9 191.3 L709.7 189.8 L717.1 201 L722.3 191.7 L726.1 186.6 L730.6 180.6 L735 180.6 L737.6 180.6 L740.8 181.9 L744 179.3 L747.8 180.6 L752.3 181.1 L754.8 182.7 L757.4 186.6 L760 188.3 L764.5 191.1 L769.6 191.1 L773.4 190.6 L777.2 194.4 L783.6 190.8 L788.7 194.4 L793.8 198.2 L797.7 197.2 L804.1 193.6 L811.1 193.6 L819.4 194 L822.6 196.6 L827.1 203.4 L830.5 203.4 L833.6 212.9 L837.1 257.6 L841 252.8 L845.4 252.1 L849.9 251.2 L854.4 251.7 L858.2 242.5 L862 235.9 L865.9 234.6 L868.4 235.9 L871 238.1 L874.2 237.7 L877.4 244.1 L883.1 244.5 L887.6 241.9 L890.8 241 L894 238.1 L897.2 240 L901 239.4 L906.7 246.1 L910.3 247.4 L911.9 250 L914.5 255.5 L917.7 257 L920.9 260.8 L924 263.1 L927.6 271.3 L930.7 270 L934.5 275.1 L937.5 273 L940.7 267.2 L944.5 269.5 L950.9 271.3 L955.3 268.5 L960.4 267.2 L964.9 269.5 L970.7 272.1 L973.9 271.7 L977.7 265.7 L982.8 265.9 L987.3 265.3 L993.7 267.9 L998.1 276.8 L1002 279.7 L1006.4 283.6 L1006.4 83 L52.2 83 Z" fill="url(#rfill)" clip-path="url(#below)"/>
<line x1="52" y1="83.5" x2="1007" y2="83.5" stroke="#878b93" stroke-width="1" stroke-dasharray="1 3" shape-rendering="crispEdges"/>
<path d="M52.2 78.3 L56.8 76.8 L58 77.2 L61.7 80 L64.3 77.8 L68.1 77.2 L74.4 74.7 L78.6 75.3 L85.3 68.8 L88.3 69.2 L92 71.8 L100.5 75.1 L105.5 79.3 L108 78.3 L111.4 72.6 L120.2 78 L125.2 74.1 L127.5 76 L130 79.7 L133 83.5 L138 88.5 L142.6 83.9 L144.7 77.2 L149.3 73 L154.4 71.8 L159 73.3 L162 71.8 L165.3 71.3 L168.5 67.6 L172 71.8 L175.4 78.5 L178.7 80.6 L182.1 80.6 L185 73 L188 73 L192.2 76 L195.5 75.5 L198.9 76.8 L207.3 78.6 L209.8 80.6 L211.5 83.9 L212.7 88.9 L214.9 113.6 L216.1 116.2 L218.6 119.9 L225.1 140.9 L228.5 131.2 L231.4 131.5 L239.1 142.6 L248.4 153.3 L251 153.7 L255.1 154.7 L258.9 160.8 L262.1 172.3 L265.3 166.6 L269.2 168.8 L272.3 173 L275.3 164.9 L279.4 171 L285.8 177.4 L289 173.9 L292.1 176.8 L295.3 165.7 L298.8 164.4 L302.4 167.5 L306.2 170 L309.4 172.6 L313.2 174.2 L326.6 183.2 L329.8 184.5 L333 188.3 L335.6 189.2 L339.5 185.1 L342 185.3 L345.2 180.8 L348.8 170.2 L352.2 173.2 L356.1 175.7 L359.3 175.1 L363.1 171.9 L368.8 162.1 L373.3 164.2 L379.1 168.7 L382.3 169 L385.8 164.2 L389.3 163.4 L392.5 158.2 L396.3 163 L398.9 164.2 L404 161.3 L405.9 161.1 L409.1 163 L412.9 160 L416.7 157.9 L419.9 157 L422.6 154.4 L425.7 145.4 L428.9 142.9 L432.8 142.9 L436.6 143.5 L439.8 141.6 L442.7 136.9 L446.8 140.7 L450.7 143.2 L453.2 143.2 L456.4 138.1 L460.2 135.2 L465.3 133.3 L469.2 131 L472.4 130.1 L476.2 133.5 L482.6 131 L486.4 132 L489.6 131.4 L494.1 135.8 L499.8 142.2 L503 143.2 L506.8 145.8 L509.5 146.5 L512.7 149.7 L516.5 153.2 L520.3 154.8 L523.5 157.3 L526.7 161.8 L529.9 164.4 L532.5 163.7 L536.3 159.9 L539.5 158.4 L543.1 154.5 L546.5 157.6 L549.7 156.3 L552.9 161.4 L556.7 156.7 L562.5 157.1 L566.9 155.8 L570.1 156.7 L572.7 156.3 L577.2 152.9 L584.2 155.4 L586.7 154.1 L589.9 150.3 L593.2 153.4 L597 154.2 L602.1 154.2 L607.9 157 L613 159.3 L616.8 163.1 L621.3 167.2 L623.5 167.9 L626.4 164 L629.6 165.7 L633.4 170 L639.2 171.7 L641.1 173.4 L646.2 182.5 L650 187.7 L653.2 192.8 L656.4 176.8 L659.6 179.4 L663.4 185.7 L666.6 185.7 L671.7 186.1 L675 185.3 L680.1 183.1 L683.7 180.6 L687.8 181.9 L694.2 184.9 L696.7 187.2 L700.5 186.6 L703.7 187.9 L706.9 191.3 L709.7 189.8 L717.1 201 L722.3 191.7 L726.1 186.6 L730.6 180.6 L735 180.6 L737.6 180.6 L740.8 181.9 L744 179.3 L747.8 180.6 L752.3 181.1 L754.8 182.7 L757.4 186.6 L760 188.3 L764.5 191.1 L769.6 191.1 L773.4 190.6 L777.2 194.4 L783.6 190.8 L788.7 194.4 L793.8 198.2 L797.7 197.2 L804.1 193.6 L811.1 193.6 L819.4 194 L822.6 196.6 L827.1 203.4 L830.5 203.4 L833.6 212.9 L837.1 257.6 L841 252.8 L845.4 252.1 L849.9 251.2 L854.4 251.7 L858.2 242.5 L862 235.9 L865.9 234.6 L868.4 235.9 L871 238.1 L874.2 237.7 L877.4 244.1 L883.1 244.5 L887.6 241.9 L890.8 241 L894 238.1 L897.2 240 L901 239.4 L906.7 246.1 L910.3 247.4 L911.9 250 L914.5 255.5 L917.7 257 L920.9 260.8 L924 263.1 L927.6 271.3 L930.7 270 L934.5 275.1 L937.5 273 L940.7 267.2 L944.5 269.5 L950.9 271.3 L955.3 268.5 L960.4 267.2 L964.9 269.5 L970.7 272.1 L973.9 271.7 L977.7 265.7 L982.8 265.9 L987.3 265.3 L993.7 267.9 L998.1 276.8 L1002 279.7 L1006.4 283.6" fill="none" stroke="#14b47b" stroke-width="2" stroke-linejoin="round" stroke-linecap="round" clip-path="url(#above)"/>
<path d="M52.2 78.3 L56.8 76.8 L58 77.2 L61.7 80 L64.3 77.8 L68.1 77.2 L74.4 74.7 L78.6 75.3 L85.3 68.8 L88.3 69.2 L92 71.8 L100.5 75.1 L105.5 79.3 L108 78.3 L111.4 72.6 L120.2 78 L125.2 74.1 L127.5 76 L130 79.7 L133 83.5 L138 88.5 L142.6 83.9 L144.7 77.2 L149.3 73 L154.4 71.8 L159 73.3 L162 71.8 L165.3 71.3 L168.5 67.6 L172 71.8 L175.4 78.5 L178.7 80.6 L182.1 80.6 L185 73 L188 73 L192.2 76 L195.5 75.5 L198.9 76.8 L207.3 78.6 L209.8 80.6 L211.5 83.9 L212.7 88.9 L214.9 113.6 L216.1 116.2 L218.6 119.9 L225.1 140.9 L228.5 131.2 L231.4 131.5 L239.1 142.6 L248.4 153.3 L251 153.7 L255.1 154.7 L258.9 160.8 L262.1 172.3 L265.3 166.6 L269.2 168.8 L272.3 173 L275.3 164.9 L279.4 171 L285.8 177.4 L289 173.9 L292.1 176.8 L295.3 165.7 L298.8 164.4 L302.4 167.5 L306.2 170 L309.4 172.6 L313.2 174.2 L326.6 183.2 L329.8 184.5 L333 188.3 L335.6 189.2 L339.5 185.1 L342 185.3 L345.2 180.8 L348.8 170.2 L352.2 173.2 L356.1 175.7 L359.3 175.1 L363.1 171.9 L368.8 162.1 L373.3 164.2 L379.1 168.7 L382.3 169 L385.8 164.2 L389.3 163.4 L392.5 158.2 L396.3 163 L398.9 164.2 L404 161.3 L405.9 161.1 L409.1 163 L412.9 160 L416.7 157.9 L419.9 157 L422.6 154.4 L425.7 145.4 L428.9 142.9 L432.8 142.9 L436.6 143.5 L439.8 141.6 L442.7 136.9 L446.8 140.7 L450.7 143.2 L453.2 143.2 L456.4 138.1 L460.2 135.2 L465.3 133.3 L469.2 131 L472.4 130.1 L476.2 133.5 L482.6 131 L486.4 132 L489.6 131.4 L494.1 135.8 L499.8 142.2 L503 143.2 L506.8 145.8 L509.5 146.5 L512.7 149.7 L516.5 153.2 L520.3 154.8 L523.5 157.3 L526.7 161.8 L529.9 164.4 L532.5 163.7 L536.3 159.9 L539.5 158.4 L543.1 154.5 L546.5 157.6 L549.7 156.3 L552.9 161.4 L556.7 156.7 L562.5 157.1 L566.9 155.8 L570.1 156.7 L572.7 156.3 L577.2 152.9 L584.2 155.4 L586.7 154.1 L589.9 150.3 L593.2 153.4 L597 154.2 L602.1 154.2 L607.9 157 L613 159.3 L616.8 163.1 L621.3 167.2 L623.5 167.9 L626.4 164 L629.6 165.7 L633.4 170 L639.2 171.7 L641.1 173.4 L646.2 182.5 L650 187.7 L653.2 192.8 L656.4 176.8 L659.6 179.4 L663.4 185.7 L666.6 185.7 L671.7 186.1 L675 185.3 L680.1 183.1 L683.7 180.6 L687.8 181.9 L694.2 184.9 L696.7 187.2 L700.5 186.6 L703.7 187.9 L706.9 191.3 L709.7 189.8 L717.1 201 L722.3 191.7 L726.1 186.6 L730.6 180.6 L735 180.6 L737.6 180.6 L740.8 181.9 L744 179.3 L747.8 180.6 L752.3 181.1 L754.8 182.7 L757.4 186.6 L760 188.3 L764.5 191.1 L769.6 191.1 L773.4 190.6 L777.2 194.4 L783.6 190.8 L788.7 194.4 L793.8 198.2 L797.7 197.2 L804.1 193.6 L811.1 193.6 L819.4 194 L822.6 196.6 L827.1 203.4 L830.5 203.4 L833.6 212.9 L837.1 257.6 L841 252.8 L845.4 252.1 L849.9 251.2 L854.4 251.7 L858.2 242.5 L862 235.9 L865.9 234.6 L868.4 235.9 L871 238.1 L874.2 237.7 L877.4 244.1 L883.1 244.5 L887.6 241.9 L890.8 241 L894 238.1 L897.2 240 L901 239.4 L906.7 246.1 L910.3 247.4 L911.9 250 L914.5 255.5 L917.7 257 L920.9 260.8 L924 263.1 L927.6 271.3 L930.7 270 L934.5 275.1 L937.5 273 L940.7 267.2 L944.5 269.5 L950.9 271.3 L955.3 268.5 L960.4 267.2 L964.9 269.5 L970.7 272.1 L973.9 271.7 L977.7 265.7 L982.8 265.9 L987.3 265.3 L993.7 267.9 L998.1 276.8 L1002 279.7 L1006.4 283.6" fill="none" stroke="#d22e4a" stroke-width="2" stroke-linejoin="round" stroke-linecap="round" clip-path="url(#below)"/>
<rect x="10.5" y="77" width="40" height="13" fill="#fff"/>
<path d="M8.4 83.4 L9.6 80.6" stroke="#14b47b" stroke-width="1.4"/>
<text x="13.6" y="88.6" font-size="11" fill="#4e5666">0.1575</text>
<rect x="848" y="292" width="144" height="18.6" fill="#fff"/>
<line x1="928" y1="300.5" x2="1007" y2="300.5" stroke="#ececec" stroke-width="1" shape-rendering="crispEdges"/>
<g fill="none" stroke="#cfd5df" stroke-width="2" stroke-linejoin="round" stroke-linecap="round">
<path d="M869.2 312.4 A10.4 10.4 0 1 1 874.3 304.8" stroke-width="1.9"/>
<path d="M856.6 308.4 L862.2 298.7 L864.2 306.2 L867.6 300.2 Q869.6 297.4 871.5 300.4 Q872.8 303.4 874.3 304.8" stroke-width="2.1"/>
</g>
<text x="883.4" y="308.8" font-size="15.4" fill="#cfd5df" stroke="#cfd5df" stroke-width="0.55">CoinMarketCap</text>

<text x="1013.4" y="62.1" font-size="11" fill="#6c7588">0.160</text>
<text x="1013.4" y="111.1" font-size="11" fill="#6c7588">0.155</text>
<text x="1013.4" y="159.1" font-size="11" fill="#6c7588">0.150</text>
<text x="1013.4" y="207.1" font-size="11" fill="#6c7588">0.145</text>
<text x="1013.4" y="256.1" font-size="11" fill="#6c7588">0.140</text>
<text x="1013.4" y="304.1" font-size="11" fill="#6c7588">0.135</text>
<rect x="1007" y="270.2" width="39.8" height="25.3" rx="3" fill="#e8343f"/>
<text x="1013.4" y="286.7" font-size="11" fill="#fff" stroke="#fff" stroke-width="0.25">0.136</text>
<text x="1019.3" y="352.8" font-size="12" font-weight="bold" fill="#737c8f">USD</text>
<text x="24.1" y="370.8" font-size="11" fill="#737c8f" letter-spacing="0.04">12:00 PM</text>
<text x="107.3" y="370.8" font-size="11" fill="#737c8f" letter-spacing="0.13">2:00 PM</text>
<text x="187.3" y="370.8" font-size="11" fill="#737c8f" letter-spacing="0.27">4:00 PM</text>
<text x="267.3" y="370.8" font-size="11" fill="#737c8f" letter-spacing="0.32">6:00 PM</text>
<text x="347.6" y="370.8" font-size="11" fill="#737c8f" letter-spacing="0.27">8:00 PM</text>
<text x="425.2" y="370.8" font-size="11" fill="#737c8f" letter-spacing="0.09">10:00 PM</text>
<text x="512.6" y="370.8" font-size="11" fill="#737c8f" letter-spacing="-0.26">21 Nov</text>
<text x="588.5" y="370.8" font-size="11" fill="#737c8f" letter-spacing="0.37">2:00 AM</text>
<text x="668.5" y="370.8" font-size="11" fill="#737c8f" letter-spacing="0.47">4:00 AM</text>
<text x="748.7" y="370.8" font-size="11" fill="#737c8f" letter-spacing="0.48">6:00 AM</text>
<text x="829.2" y="370.8" font-size="11" fill="#737c8f" letter-spacing="0.48">8:00 AM</text>
<text x="906.3" y="370.8" font-size="11" fill="#737c8f" letter-spacing="0.40">10:00 AM</text>
<path d="M8.4 388.9 Q8.2 389.4 8.6 389.9 L15.6 399.4 Q17.2 401.4 19.8 401.4 L40 401.4 A12 12 0 0 0 40 377.4 L19.8 377.4 Q17.2 377.4 15.6 379.4 L8.6 387.9 Q8.2 388.4 8.4 388.9 Z" fill="#a5afc2"/>
<g fill="none" stroke="#fff" stroke-width="1.35" stroke-linecap="round" stroke-linejoin="round">
<path d="M19.2 386.9 A4.8 4.8 0 1 1 19.2 390"/>
<path d="M17.6 385.9 L19.1 387.4 L20.7 386.2"/>
<path d="M23.9 385.7 L23.9 388.5 L26.2 389.8"/>
</g>
<text x="34.6" y="392.6" font-size="10.4" font-weight="bold" fill="#fff">31</text>
<path d="M957.5 378.2 L961.9 374.3 L966.3 378.2 Z" fill="#3760f5"/>
<rect x="919" y="378" width="86" height="24" rx="12" fill="#3760f5"/>
<g fill="none" stroke="#fff" stroke-width="1.35" stroke-linecap="round" stroke-linejoin="round">
<path d="M939.1 390.3 A6.1 6.1 0 1 0 927.2 391.6 L927.4 395.3 L935 395.1 Q936.6 394.9 937.3 394.1"/>
<path d="M929.8 391.6 L932 387.5 L933.4 390.6 L934.8 388 Q936 386.9 936.7 388.7 L937.2 390.8 Q937.9 391.6 939.1 390.3"/>
</g>
<text x="943.5" y="394.2" font-size="11" font-weight="bold" fill="#fff" letter-spacing="-0.1">Analyze</text>
<path d="M990.4 388 L993.8 391.4 L990.4 394.8" fill="none" stroke="#fff" stroke-width="1.3" stroke-linecap="round" stroke-linejoin="round"/>
<g shape-rendering="crispEdges">
<line x1="8" y1="406.5" x2="1008" y2="406.5" stroke="#ededed" stroke-width="1"/>
<line x1="8" y1="446.5" x2="1008" y2="446.5" stroke="#f1f1f1" stroke-width="1"/>
<line x1="11.6" y1="407" x2="11.6" y2="446" stroke="#f2f2f2" stroke-width="1"/>
<line x1="95.3" y1="407" x2="95.3" y2="446" stroke="#f2f2f2" stroke-width="1"/>
<line x1="179" y1="407" x2="179" y2="446" stroke="#f2f2f2" stroke-width="1"/>
<line x1="262.7" y1="407" x2="262.7" y2="446" stroke="#f2f2f2" stroke-width="1"/>
<line x1="346.4" y1="407" x2="346.4" y2="446" stroke="#f2f2f2" stroke-width="1"/>
<line x1="430" y1="407" x2="430" y2="446" stroke="#f2f2f2" stroke-width="1"/>
<line x1="513.7" y1="407" x2="513.7" y2="446" stroke="#f2f2f2" stroke-width="1"/>
<line x1="597.4" y1="407" x2="597.4" y2="446" stroke="#f2f2f2" stroke-width="1"/>
<line x1="681" y1="407" x2="681" y2="446" stroke="#f2f2f2" stroke-width="1"/>
<line x1="764.8" y1="407" x2="764.8" y2="446" stroke="#f2f2f2" stroke-width="1"/>
<line x1="848.5" y1="407" x2="848.5" y2="446" stroke="#f2f2f2" stroke-width="1"/>
<line x1="932.2" y1="407" x2="932.2" y2="446" stroke="#f2f2f2" stroke-width="1"/>
<line x1="1006.5" y1="407" x2="1006.5" y2="446" stroke="#f3f4f6" stroke-width="1"/>
</g>
<path d="M603.5 446.0 L604.0 442.4 L604.9 442.2 L605.8 442.4 L606.7 441.9 L607.6 442.1 L608.5 441.9 L609.4 441.5 L610.3 441.8 L611.2 441.4 L612.1 441.6 L613.0 441.3 L613.9 441.3 L614.8 441.5 L615.7 441.8 L616.6 441.2 L617.5 441.2 L618.4 441.5 L619.3 441.7 L620.2 441.3 L621.1 439.4 L622.0 431.6 L622.9 426.5 L623.8 426.8 L624.7 422.8 L625.6 417.8 L626.5 412.0 L627.4 409.9 L628.3 412.3 L629.2 415.4 L630.1 423.0 L631.0 425.7 L631.9 424.4 L632.8 425.1 L633.7 423.9 L634.6 425.5 L635.5 427.5 L636.4 430.4 L637.3 430.9 L638.2 431.7 L639.1 433.3 L640.0 433.8 L640.9 434.4 L641.8 435.8 L642.7 435.9 L643.6 435.3 L644.5 436.3 L645.4 435.7 L646.3 434.9 L647.2 433.1 L648.1 430.6 L649.0 431.7 L649.9 428.6 L650.8 428.7 L651.7 430.0 L652.6 428.7 L653.5 430.3 L654.4 429.6 L655.3 431.9 L656.2 432.7 L657.1 432.8 L658.0 434.2 L658.9 433.5 L659.8 434.2 L660.7 433.8 L661.6 433.5 L662.5 433.0 L663.4 433.6 L664.3 433.5 L665.2 431.9 L666.1 432.0 L667.0 430.0 L667.9 432.0 L668.8 432.2 L669.7 433.4 L670.6 433.2 L671.5 432.6 L672.4 433.8 L673.3 435.4 L674.2 435.0 L675.1 436.0 L676.0 435.7 L676.9 435.8 L677.8 435.9 L678.7 437.3 L679.6 436.5 L680.5 436.7 L681.4 436.8 L682.3 437.4 L683.2 435.9 L684.1 436.4 L685.0 436.4 L685.9 437.8 L686.8 438.4 L687.7 439.3 L688.6 438.9 L689.5 439.1 L690.4 439.1 L691.3 439.8 L692.2 439.9 L693.1 439.1 L694.0 439.2 L694.9 439.3 L695.8 439.1 L696.7 439.2 L697.6 439.2 L698.5 438.6 L699.4 438.1 L700.3 438.5 L701.2 438.3 L702.1 438.5 L703.0 439.0 L703.9 438.6 L704.8 438.2 L705.7 438.4 L706.6 438.6 L707.5 437.8 L708.4 439.1 L709.3 439.0 L710.2 439.2 L711.1 439.3 L712.0 440.0 L712.9 441.2 L713.8 441.1 L714.7 441.5 L715.6 441.1 L716.5 441.1 L717.4 441.2 L718.3 441.2 L719.2 441.3 L720.1 441.1 L721.0 441.1 L721.9 441.2 L722.8 441.2 L723.7 441.4 L724.6 441.2 L725.5 441.8 L726.4 441.6 L727.3 441.3 L728.2 441.4 L729.1 441.5 L730.0 441.5 L730.9 441.3 L731.8 441.9 L732.7 442.0 L733.6 441.6 L734.5 441.6 L735.4 441.3 L736.3 441.4 L737.2 441.6 L738.1 441.5 L739.0 442.0 L739.9 441.4 L740.8 441.4 L741.7 442.1 L742.6 441.8 L743.5 441.5 L744.4 441.8 L745.3 441.4 L746.2 441.8 L747.1 442.2 L748.0 442.1 L748.9 441.1 L749.8 439.7 L750.7 440.1 L751.6 440.4 L752.5 441.5 L753.4 441.5 L754.3 441.8 L755.2 441.4 L756.1 441.4 L757.0 441.8 L757.9 442.0 L758.8 441.9 L759.7 441.9 L760.6 441.9 L761.5 441.9 L762.4 441.5 L763.3 441.8 L764.2 441.7 L765.1 441.4 L766.0 441.5 L766.9 441.7 L767.8 441.7 L768.7 442.0 L769.6 442.2 L770.5 441.9 L771.4 442.3 L772.3 442.3 L773.2 442.3 L774.1 441.9 L775.0 441.8 L775.9 441.9 L776.8 441.9 L777.7 441.9 L778.6 442.2 L779.5 442.4 L780.4 442.4 L781.3 442.2 L782.2 442.3 L783.1 442.4 L784.0 442.0 L784.9 442.4 L785.8 442.6 L786.7 442.5 L787.6 442.5 L788.5 442.3 L789.4 442.2 L790.3 442.6 L791.2 442.3 L792.1 442.6 L793.0 442.7 L793.9 442.3 L794.8 442.3 L795.7 442.6 L796.6 442.5 L797.5 442.1 L798.4 442.0 L799.3 442.0 L800.2 442.5 L801.1 442.5 L802.0 442.0 L802.9 442.5 L803.8 442.5 L804.7 442.3 L805.6 442.1 L806.5 442.2 L807.4 441.9 L808.3 441.8 L809.2 442.5 L810.1 442.2 L811.0 442.1 L811.9 442.4 L812.8 442.1 L813.7 442.4 L814.6 442.3 L815.5 441.9 L816.4 441.9 L817.3 441.9 L818.2 441.8 L819.1 442.1 L820.0 441.8 L820.9 441.9 L821.8 441.7 L822.7 442.3 L823.6 441.9 L824.5 441.9 L825.4 442.0 L826.3 442.2 L827.2 441.9 L828.1 442.2 L829.0 441.9 L829.9 441.9 L830.8 441.9 L831.7 441.5 L832.6 441.8 L833.5 441.6 L834.4 441.4 L835.3 442.0 L836.2 441.5 L837.1 441.6 L838.0 441.6 L838.9 441.3 L839.8 440.9 L840.7 440.9 L841.6 440.8 L842.5 440.9 L843.4 440.1 L844.3 440.5 L845.2 440.0 L846.1 439.9 L847.0 440.3 L847.9 439.9 L848.8 439.8 L849.7 439.9 L850.6 440.0 L851.5 439.4 L852.4 439.5 L853.3 439.2 L854.2 439.1 L855.1 439.3 L856.0 438.9 L856.9 438.9 L857.8 438.7 L858.7 438.9 L859.6 438.2 L860.5 438.0 L861.4 437.6 L862.3 436.1 L863.2 436.5 L864.1 437.0 L865.0 436.7 L865.9 435.3 L866.8 435.5 L867.7 436.3 L868.6 435.9 L869.5 436.5 L870.4 436.5 L871.3 437.7 L872.2 438.0 L873.1 438.2 L874.0 437.2 L874.9 438.1 L875.8 438.0 L876.7 437.3 L877.6 438.4 L878.5 438.6 L879.4 437.5 L880.3 438.6 L881.2 437.9 L882.1 438.0 L883.0 438.8 L883.9 438.6 L884.8 437.7 L885.7 438.1 L886.6 438.3 L887.5 438.1 L888.4 437.9 L889.3 438.1 L890.2 438.7 L891.1 437.8 L892.0 438.5 L892.9 438.4 L893.8 437.9 L894.7 438.3 L895.6 438.8 L896.5 438.7 L897.4 438.1 L898.3 439.3 L899.2 439.1 L900.1 439.4 L901.0 438.3 L901.9 438.5 L902.8 438.3 L903.7 439.3 L904.6 438.6 L905.5 438.5 L906.4 438.9 L907.3 439.5 L908.2 439.5 L909.1 438.8 L910.0 438.7 L910.9 439.7 L911.8 439.3 L912.7 438.9 L913.6 437.4 L914.5 436.3 L915.4 436.2 L916.3 434.5 L917.2 432.5 L918.1 433.4 L919.0 431.5 L919.9 430.3 L920.8 425.4 L921.7 425.3 L922.6 421.4 L923.5 423.2 L924.4 421.2 L925.3 420.2 L926.2 420.7 L927.1 421.9 L928.0 422.1 L928.9 424.0 L929.8 425.6 L930.7 424.8 L931.6 424.6 L932.5 424.4 L933.4 423.4 L934.3 423.5 L935.2 424.0 L936.1 424.1 L937.0 425.7 L937.9 425.2 L938.8 426.8 L939.7 426.7 L940.6 428.3 L941.5 428.5 L942.4 430.3 L943.3 430.8 L944.2 433.7 L945.1 434.3 L946.0 433.9 L946.9 434.8 L947.8 436.1 L948.7 434.9 L949.6 436.6 L950.5 436.0 L951.4 436.1 L952.3 436.6 L953.2 435.8 L954.1 435.9 L955.0 436.2 L955.9 436.6 L956.8 435.4 L957.7 436.2 L958.6 435.5 L959.5 434.5 L960.4 433.2 L961.3 432.3 L962.2 431.1 L963.1 432.1 L964.0 432.9 L964.9 435.1 L965.8 435.0 L966.7 435.0 L967.6 435.0 L968.5 436.5 L969.4 436.6 L970.3 436.3 L971.2 435.7 L972.1 435.7 L973.0 435.2 L973.9 434.9 L974.8 433.8 L975.7 433.8 L976.6 432.8 L977.5 434.1 L978.4 434.1 L979.3 433.1 L980.2 432.3 L981.1 433.9 L982.0 432.3 L982.9 432.4 L983.8 431.5 L984.7 432.3 L985.6 432.3 L986.5 432.0 L987.4 430.8 L988.3 431.2 L989.2 429.5 L990.1 429.9 L991.0 429.6 L991.9 430.6 L992.8 429.8 L993.7 430.0 L994.6 430.9 L995.5 430.7 L996.4 431.4 L997.3 431.0 L998.2 431.4 L999.1 430.9 L1000.0 430.8 L1000.9 431.3 L1001.8 430.0 L1002.7 429.9 L1003.6 431.8 L1004.5 429.5 L1005.4 431.1 L1006.3 431.0 L1006.7 430.6 L1006.7 446.0 Z" fill="#eff1f4"/>
<text x="8.4" y="462.9" font-size="11" fill="#737c8f">2014</text>
<text x="95.3" y="462.9" font-size="11" fill="#737c8f" text-anchor="middle">2015</text>
<text x="179" y="462.9" font-size="11" fill="#737c8f" text-anchor="middle">2016</text>
<text x="262.7" y="462.9" font-size="11" fill="#737c8f" text-anchor="middle">2017</text>
<text x="346.4" y="462.9" font-size="11" fill="#737c8f" text-anchor="middle">2018</text>
<text x="430" y="462.9" font-size="11" fill="#737c8f" text-anchor="middle">2019</text>
<text x="513.7" y="462.9" font-size="11" fill="#737c8f" text-anchor="middle">2020</text>
<text x="597.4" y="462.9" font-size="11" fill="#737c8f" text-anchor="middle">2021</text>
<text x="681" y="462.9" font-size="11" fill="#737c8f" text-anchor="middle">2022</text>
<text x="764.8" y="462.9" font-size="11" fill="#737c8f" text-anchor="middle">2023</text>
<text x="848.5" y="462.9" font-size="11" fill="#737c8f" text-anchor="middle">2024</text>
<text x="932.2" y="462.9" font-size="11" fill="#737c8f" text-anchor="middle">2025</text>
<rect x="998.9" y="416.5" width="14" height="19.6" rx="6.5" fill="#fff" stroke="#edf0f3" stroke-width="0.6" filter="url(#hshadow)"/>
<line x1="1004.4" y1="422.4" x2="1004.4" y2="429.8" stroke="#8a91a1" stroke-width="1.1"/>
<line x1="1007.4" y1="422.4" x2="1007.4" y2="429.8" stroke="#8a91a1" stroke-width="1.1"/>
</svg>
</body></html>
